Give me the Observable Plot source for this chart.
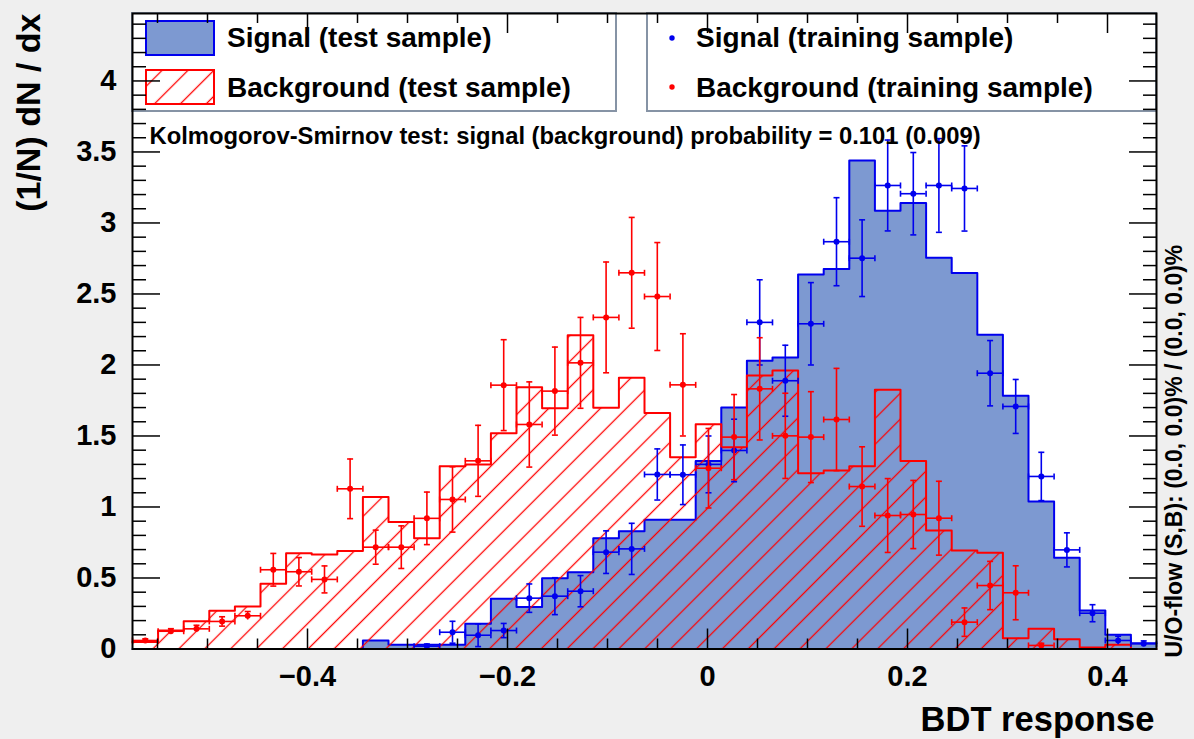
<!DOCTYPE html>
<html>
<head>
<meta charset="utf-8">
<script src="https://cdn.jsdelivr.net/npm/d3@7"></script>
<script src="https://cdn.jsdelivr.net/npm/@observablehq/plot@0.6"></script>
<style>
html, body { margin: 0; padding: 0; background: #efefef; }
#chart { width: 1194px; height: 739px; overflow: hidden; }
</style>
</head>
<body>
<div id="chart"></div>
<script>
// ---------------- data ----------------
const xMin = -0.575, xMax = 0.449, nBins = 40;
const yMax = 4.475;

const sigTest = [0, 0, 0, 0, 0, 0, 0, 0, 0, 0.06, 0.03, 0.03, 0.03, 0.177, 0.353, 0.295, 0.499, 0.541, 0.78, 0.83,
  0.91, 0.91, 1.323, 1.70, 2.03, 2.053, 2.637, 2.675, 3.44, 3.086, 3.14, 2.755, 2.647, 2.213, 1.783, 1.039, 0.642, 0.271, 0.10, 0.041];
const bkgTest = [0.05, 0.13, 0.196, 0.27, 0.30, 0.46, 0.675, 0.665, 0.69, 1.07, 0.895, 0.78, 1.287, 1.30, 1.52, 1.844, 1.696, 2.21, 1.698, 1.91,
  1.661, 1.351, 1.583, 1.42, 1.926, 1.961, 1.238, 1.257, 1.287, 1.825, 1.323, 0.835, 0.694, 0.677, 0.075, 0.142, 0.068, 0.01, 0.03, 0];

const sigTrain = [null, null, null, null, null, null, null, null, null, null, null, 0.02, 0.118, 0.097, 0.13, 0.358, 0.372, 0.407, 0.682, 0.705,
  1.229, 1.227, 1.30, 1.398, 2.30, 1.889, 2.29, 2.868, 2.752, 3.264, 3.206, 3.264, 3.243, 1.942, 1.708, 1.215, 0.698, 0.252, 0.06, 0.037];
const sigTrainErr = [null, null, null, null, null, null, null, null, null, null, null, 0.015, 0.077, 0.08, 0.05, 0.1, 0.13, 0.11, 0.15, 0.18,
  0.18, 0.21, 0.2, 0.22, 0.3, 0.25, 0.29, 0.31, 0.27, 0.32, 0.29, 0.33, 0.3, 0.23, 0.19, 0.17, 0.12, 0.06, 0.03, 0.02];

const bkgTrain = [0.06, 0.125, 0.142, 0.194, 0.234, 0.558, 0.544, 0.49, 1.128, 0.717, 0.717, 0.92, 1.053, 1.325, 1.858, 1.581, 1.816, 2.015, 2.335, 2.649,
  2.482, 1.86, 1.273, 1.492, 1.832, 1.501, 1.492, 1.616, 1.144, 0.94, 0.947, 0.921, 0.189, 0.447, 0.396, 0.025, null, null, null, null];
const bkgTrainErr = [0.012, 0.018, 0.025, 0.033, 0.03, 0.115, 0.1, 0.095, 0.21, 0.12, 0.15, 0.185, 0.23, 0.25, 0.32, 0.3, 0.31, 0.32, 0.39, 0.39,
  0.38, 0.36, 0.28, 0.3, 0.36, 0.3, 0.32, 0.36, 0.28, 0.26, 0.24, 0.26, 0.1, 0.17, 0.19, 0.015, null, null, null, null];

const xTickValues = [-0.4, -0.2, 0, 0.2, 0.4];
const xTickLabels = ["\u22120.4", "\u22120.2", "0", "0.2", "0.4"];
const yTickValues = [0, 0.5, 1, 1.5, 2, 2.5, 3, 3.5, 4];
const yTickLabels = ["0", "0.5", "1", "1.5", "2", "2.5", "3", "3.5", "4"];

const legendLabels = ["Signal (test sample)", "Background (test sample)", "Signal (training sample)", "Background (training sample)"];
const ksText = "Kolmogorov-Smirnov test: signal (background) probability = 0.101 (0.009)";
const xTitle = "BDT response";
const yTitle = "(1/N) dN / dx";
const flowText = "U/O-flow (S,B): (0.0, 0.0)% / (0.0, 0.0)%";

// ---------------- styles ----------------
const sigFill = "#7d99d1", sigLine = "#0000ee", bkgLine = "#ff0000";
const FONT = "'Liberation Sans', Arial, Helvetica, sans-serif";

// ---------------- derived tables ----------------
const bw = (xMax - xMin) / nBins;
const edges = d3.range(nBins + 1).map(i => ({
  x: xMin + i * bw,
  sig: sigTest[Math.min(i, nBins - 1)],
  bkg: bkgTest[Math.min(i, nBins - 1)]
}));
function points(vals, errs) {
  return vals.map((v, i) => v == null ? null : ({
    x1: xMin + i * bw, x2: xMin + (i + 1) * bw, xc: xMin + (i + 0.5) * bw,
    v, lo: Math.max(0, v - errs[i]), hi: v + errs[i]
  })).filter(d => d);
}
const sigPts = points(sigTrain, sigTrainErr);
const bkgPts = points(bkgTrain, bkgTrainErr);

const W = 1194, H = 739, mL = 132, mR = 38, mT = 13, mB = 90.5;
const innerW = W - mL - mR, innerH = H - mT - mB;

const hCap = {draw(ctx) { ctx.moveTo(-3, 0); ctx.lineTo(3, 0); }};
const vCap = {draw(ctx) { ctx.moveTo(0, -3); ctx.lineTo(0, 3); }};

function errMarks(pts, color) {
  return [
    Plot.ruleX(pts, {x: "xc", y1: "lo", y2: "hi", stroke: color, strokeWidth: 1.6}),
    Plot.ruleY(pts, {y: "v", x1: "x1", x2: "x2", stroke: color, strokeWidth: 1.6}),
    Plot.dot(pts, {x: "xc", y: "hi", symbol: hCap, stroke: color, fill: "none", strokeWidth: 1.6}),
    Plot.dot(pts.filter(d => d.v - d.lo > 0.03), {x: "xc", y: "lo", symbol: hCap, stroke: color, fill: "none", strokeWidth: 1.6}),
    Plot.dot(pts, {x: "x1", y: "v", symbol: vCap, stroke: color, fill: "none", strokeWidth: 1.6}),
    Plot.dot(pts, {x: "x2", y: "v", symbol: vCap, stroke: color, fill: "none", strokeWidth: 1.6}),
    Plot.dot(pts, {x: "xc", y: "v", r: 3, fill: color, stroke: null})
  ];
}

const xMinor = d3.range(-0.55, 0.449, 0.05).map(d => +d.toFixed(2)).filter(d => !xTickValues.some(t => Math.abs(t - d) < 1e-9));
const yMinor = d3.range(0, 4.45, 0.1).map(d => +d.toFixed(1)).filter(d => !yTickValues.some(t => Math.abs(t - d) < 1e-9));

// hatch pattern definition (render-function mark)
function hatchDefs() {
  const defs = d3.create("svg:defs");
  defs.append("pattern")
    .attr("id", "bgHatch").attr("patternUnits", "userSpaceOnUse")
    .attr("width", 18.3).attr("height", 18.3).attr("x", 8.8)
    .attr("patternTransform", "rotate(45)")
    .append("line").attr("x1", 9.15).attr("x2", 9.15).attr("y1", -2).attr("y2", 20.3)
    .attr("stroke", bkgLine).attr("stroke-width", 1.3);
  return defs.node();
}

// legend (render-function mark, drawn before the axis ticks)
function legendMark() {
  const leg = d3.create("svg:g").attr("aria-label", "legend")
    .attr("font-family", FONT).attr("font-weight", "bold").attr("text-anchor", "start");
  const boxStroke = "#8693a5";
  leg.append("rect").attr("x", mL).attr("y", mT).attr("width", 616 - mL).attr("height", 111 - mT)
    .attr("fill", "white").attr("stroke", boxStroke).attr("stroke-width", 2);
  leg.append("rect").attr("x", 647).attr("y", mT).attr("width", W - mR - 647).attr("height", 111 - mT)
    .attr("fill", "white").attr("stroke", boxStroke).attr("stroke-width", 2);
  leg.append("rect").attr("x", 146).attr("y", 21).attr("width", 68).attr("height", 34)
    .attr("fill", sigFill).attr("stroke", sigLine).attr("stroke-width", 2);
  leg.append("rect").attr("x", 146).attr("y", 70).attr("width", 68).attr("height", 34)
    .attr("fill", "url(#bgHatch)").attr("stroke", bkgLine).attr("stroke-width", 2);
  leg.append("circle").attr("cx", 672).attr("cy", 38).attr("r", 2.7).attr("fill", sigLine);
  leg.append("circle").attr("cx", 672).attr("cy", 87).attr("r", 2.7).attr("fill", bkgLine);
  [[227, 47], [227, 96.5], [696, 47], [696, 96.5]].forEach(([x, y], i) => {
    leg.append("text").attr("x", x).attr("y", y).attr("font-size", 28).attr("fill", "black")
      .attr("text-anchor", "start").text(legendLabels[i]);
  });
  return leg.node();
}

const svg = Plot.plot({
  width: W, height: H,
  marginLeft: mL, marginRight: mR, marginTop: mT, marginBottom: mB,
  style: {fontFamily: FONT, fontWeight: "bold", background: "transparent", color: "black"},
  x: {domain: [xMin, xMax]},
  y: {domain: [0, yMax]},
  marks: [
    hatchDefs,
    Plot.frame({fill: "white", stroke: null}),
    // signal test histogram
    Plot.areaY(edges, {x: "x", y: "sig", curve: "step-after", fill: sigFill}),
    Plot.lineY(edges, {x: "x", y: "sig", curve: "step-after", stroke: sigLine, strokeWidth: 2}),
    // background test histogram (hatched)
    Plot.areaY(edges, {x: "x", y: "bkg", curve: "step-after", fill: "url(#bgHatch)"}),
    Plot.lineY(edges, {x: "x", y: "bkg", curve: "step-after", stroke: bkgLine, strokeWidth: 2}),
    // training samples
    ...errMarks(sigPts, sigLine),
    ...errMarks(bkgPts, bkgLine),
    // texts
    Plot.text([ksText], {frameAnchor: "top-left", text: d => d, textAnchor: "start", lineAnchor: "bottom", dx: 17, dy: 130.5, fontSize: 23.8, fontWeight: "bold", fill: "black"}),
    Plot.text([xTitle], {frameAnchor: "bottom-right", text: d => d, textAnchor: "end", lineAnchor: "bottom", dx: -2, dy: 82, fontSize: 34.5, fontWeight: "bold", fill: "black"}),
    Plot.text([yTitle], {frameAnchor: "top-left", text: d => d, rotate: -90, textAnchor: "end", lineAnchor: "bottom", dx: -93, dy: 0, fontSize: 34, fontWeight: "bold", fill: "black"}),
    Plot.text([flowText], {frameAnchor: "bottom-right", text: d => d, rotate: -90, textAnchor: "start", lineAnchor: "bottom", dx: 25, dy: 8.5, fontSize: 23, fontWeight: "bold", fill: "black"}),
    legendMark,
    // ticks (inward, ROOT style)
    Plot.ruleX(xTickValues, {insetTop: innerH - 20, stroke: "black", strokeWidth: 1.5}),
    Plot.ruleX(xTickValues, {insetBottom: innerH - 20, stroke: "black", strokeWidth: 1.5}),
    Plot.ruleX(xMinor, {insetTop: innerH - 10, stroke: "black", strokeWidth: 1.5}),
    Plot.ruleX(xMinor, {insetBottom: innerH - 10, stroke: "black", strokeWidth: 1.5}),
    Plot.ruleY(yTickValues, {insetRight: innerW - 28, stroke: "black", strokeWidth: 1.5}),
    Plot.ruleY(yTickValues, {insetLeft: innerW - 27, stroke: "black", strokeWidth: 1.5}),
    Plot.ruleY(yMinor, {insetRight: innerW - 14, stroke: "black", strokeWidth: 1.5}),
    Plot.ruleY(yMinor, {insetLeft: innerW - 13, stroke: "black", strokeWidth: 1.5}),
    // axis labels
    Plot.axisX({ticks: xTickValues, tickFormat: d => xTickLabels[xTickValues.indexOf(d)], tickSize: 0, tickPadding: 16, fontSize: 29, label: null}),
    Plot.axisY({ticks: yTickValues, tickFormat: d => yTickLabels[yTickValues.indexOf(d)], tickSize: 0, tickPadding: 16, fontSize: 29, label: null}),
    Plot.frame({stroke: "black", strokeWidth: 2})
  ]
});

document.getElementById("chart").appendChild(svg);
</script>
</body>
</html>
